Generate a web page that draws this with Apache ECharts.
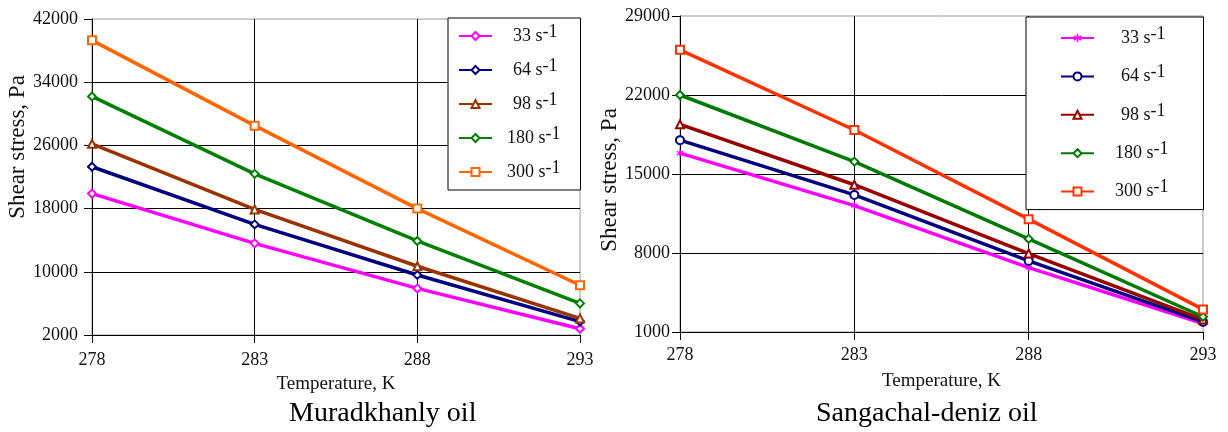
<!DOCTYPE html>
<html>
<head>
<meta charset="utf-8">
<script src="https://cdn.jsdelivr.net/npm/echarts@6/dist/echarts.min.js"></script>
<style>html,body{margin:0;padding:0;background:#fff}#c{width:1228px;height:432px}</style>
</head>
<body>
<div id="c"></div>
<script>
// Temperatures (K)
var temps = [278, 283, 288, 293];
// Shear rates (s^-1)
var rates = ['33', '64', '98', '180', '300'];
// Muradkhanly oil, shear stress (Pa)
var mur33  = [19900, 13600, 7900, 2800];
var mur64  = [23300, 16000, 9600, 3700];
var mur98  = [26200, 17900, 10700, 4100];
var mur180 = [32200, 22400, 13900, 6000];
var mur300 = [39300, 28500, 18000, 8300];
// Sangachal-deniz oil, shear stress (Pa)
var san33  = [16850, 12200, 6700, 1750];
var san64  = [18000, 13150, 7300, 1900];
var san98  = [19400, 14050, 7950, 2100];
var san180 = [22000, 16100, 9250, 2350];
var san300 = [26000, 18900, 11000, 3000];
// Axis ranges / tick steps
var murY = {min: 2000, max: 42000, step: 8000};
var sanY = {min: 1000, max: 29000, step: 7000};
var xRange = {min: 278, max: 293, step: 5};
var captions = ['Muradkhanly oil', 'Sangachal-deniz oil'];

var FONT = 'Liberation Serif';
var chart = echarts.init(document.getElementById('c'));

function pairs(v) { return temps.map(function (t, i) { return [t, v[i]]; }); }

var murSets = [mur33, mur64, mur98, mur180, mur300];
var sanSets = [san33, san64, san98, san180, san300];
var murColors = ['#FF00FF', '#000080', '#993300', '#008000', '#FF6600'];
var sanColors = ['#FF00FF', '#000080', '#990000', '#007A00', '#FF3300'];
var asterisk = 'path://M4,0 L6,0 L6,3.3 L9,1.6 L10,3.4 L7,5 L10,6.6 L9,8.4 L6,6.7 L6,10 L4,10 L4,6.7 L1,8.4 L0,6.6 L3,5 L0,3.4 L1,1.6 L4,3.3 Z';
var murSymbols = ['emptyDiamond', 'emptyDiamond', 'emptyTriangle', 'emptyDiamond', 'emptyRect'];
var sanSymbols = [asterisk, 'emptyCircle', 'emptyTriangle', 'emptyDiamond', 'emptyRect'];

var nameToRate = {};
var series = [];
rates.forEach(function (r, i) {
  var n1 = 'M' + r, n2 = 'S' + r;
  nameToRate[n1] = r; nameToRate[n2] = r;
  series.push({
    name: n1, type: 'line', xAxisIndex: 0, yAxisIndex: 0,
    data: pairs(murSets[i]), symbol: murSymbols[i], symbolSize: 8,
    color: murColors[i], lineStyle: {width: 3.5, color: murColors[i]},
    itemStyle: {color: murColors[i], borderWidth: 1.2}, animation: false, z: 3 + i
  });
  series.push({
    name: n2, type: 'line', xAxisIndex: 1, yAxisIndex: 1,
    data: pairs(sanSets[i]), symbol: sanSymbols[i], symbolSize: i === 0 ? 7 : 8,
    color: sanColors[i], lineStyle: {width: 3.5, color: sanColors[i]},
    itemStyle: {color: sanColors[i], borderWidth: 1.2}, animation: false, z: 3 + i
  });
});

function xAxis(gi, margin) {
  return {
    type: 'value', gridIndex: gi, min: xRange.min, max: xRange.max, interval: xRange.step,
    name: 'Temperature, K', nameLocation: 'middle', nameGap: 40,
    nameTextStyle: {fontFamily: FONT, fontSize: 19, color: '#111'},
    axisLine: {show: true, lineStyle: {color: '#000', width: 1}},
    axisTick: {show: true, inside: false, length: 8, lineStyle: {color: '#000'}},
    axisLabel: {fontFamily: FONT, fontSize: 18, color: '#111', margin: margin},
    splitLine: {show: true, showMaxLine: false, lineStyle: {color: '#000', width: 1}}
  };
}
function yAxis(gi, rng, gap, margin, namePad) {
  return {
    type: 'value', gridIndex: gi, min: rng.min, max: rng.max, interval: rng.step,
    name: 'Shear stress, Pa', nameLocation: 'middle', nameGap: gap, nameRotate: 90,
    nameTextStyle: {fontFamily: FONT, fontSize: 23, color: '#111', padding: namePad},
    axisLine: {show: true, lineStyle: {color: '#000', width: 1}},
    axisTick: {show: true, inside: false, length: 8, lineStyle: {color: '#000'}},
    axisLabel: {fontFamily: FONT, fontSize: 18, color: '#111', margin: margin,
      formatter: function (v) { return String(v); }},
    splitLine: {show: true, showMaxLine: false, lineStyle: {color: '#000', width: 1}}
  };
}

function legend(idx, left, top, padding, gap, padA, padB) {
  return {
    show: true, orient: 'vertical', left: left, top: top,
    data: rates.map(function (r) { return (idx === 0 ? 'M' : 'S') + r; }),
    selectedMode: false,
    backgroundColor: '#fff', borderColor: '#000', borderWidth: 1, borderRadius: 0,
    padding: padding, itemGap: gap, itemWidth: 33, itemHeight: 10,
    formatter: function (n) {
      var r = nameToRate[n];
      return '{' + (r.length < 3 ? 'b' : 'a') + '|' + r + ' s}{sup|-1}';
    },
    textStyle: {
      fontFamily: FONT, color: '#111',
      rich: {
        a: {fontFamily: FONT, fontSize: 18, lineHeight: 26, color: '#111', padding: [0, 0, 0, padA]},
        b: {fontFamily: FONT, fontSize: 18, lineHeight: 26, color: '#111', padding: [0, 0, 0, padB]},
        sup: {fontFamily: FONT, fontSize: 18, lineHeight: 18, verticalAlign: 'top', color: '#111'}
      }
    }
  };
}

var option = {
  backgroundColor: '#fff',
  animation: false,
  grid: [
    {left: 92, top: 19, right: 648, bottom: 97, show: true, borderColor: '#999', borderWidth: 1, containLabel: false},
    {left: 680, top: 16, right: 25, bottom: 100, show: true, borderColor: '#999', borderWidth: 1, containLabel: false}
  ],
  xAxis: [xAxis(0, 16), xAxis(1, 14)],
  yAxis: [yAxis(0, murY, 60, 14, [0, 0, 0, 60]), yAxis(1, sanY, 56, 10, [0, 12, 0, 0])],
  legend: [
    legend(0, 448, 18, [5, 20, 9, 10], 12, 10, 16),
    legend(1, 1026, 17, [8, 35, 9, 34], 16.4, 16, 22)
  ],
  graphic: [
    {type: 'text', left: 289, top: 400, style: {text: captions[0], font: '28px "Liberation Serif"', fill: '#000'}},
    {type: 'text', left: 816, top: 400, style: {text: captions[1], font: '28px "Liberation Serif"', fill: '#000'}}
  ],
  series: series
};
chart.setOption(option);
</script>
</body>
</html>
